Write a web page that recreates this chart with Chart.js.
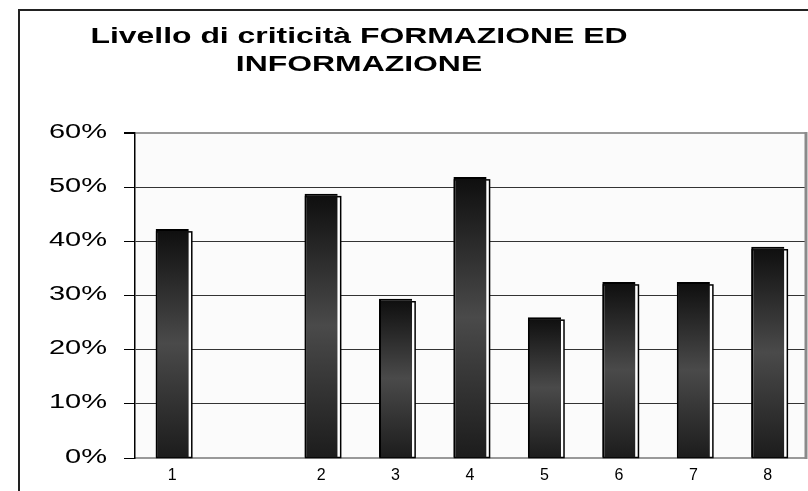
<!DOCTYPE html>
<html>
<head>
<meta charset="utf-8">
<script src="https://cdn.jsdelivr.net/npm/chart.js@4.4.1/dist/chart.umd.min.js"></script>
<style>
  html, body { margin: 0; padding: 0; background: #fff; }
  #wrap { width: 808px; height: 491px; }
</style>
</head>
<body>
<div id="wrap"><canvas id="c" width="808" height="491"></canvas></div>
<script>
const titleLines = ["Livello di criticità FORMAZIONE ED", "INFORMAZIONE"];
const categories = ["1", "", "2", "3", "4", "5", "6", "7", "8"];
const criticita = [42.3, null, 48.8, 29.4, 51.9, 26.0, 32.5, 32.5, 39.0];
const yMax = 60;
const yStep = 10;

// old Excel chart was stretched sideways, so text is wider than normal
function wideText(ctx, text, x, y, font, sx, align) {
  ctx.save();
  ctx.translate(x, y);
  ctx.scale(sx, 1);
  ctx.font = font;
  ctx.textAlign = align;
  ctx.textBaseline = "middle";
  ctx.fillStyle = "#000";
  ctx.fillText(text, 0, 0);
  ctx.restore();
}

const decor = {
  id: "decor",
  beforeDraw(chart) {
    const { ctx, chartArea: a } = chart;
    ctx.save();
    ctx.fillStyle = "#fff";
    ctx.fillRect(0, 0, chart.width, chart.height);
    ctx.strokeStyle = "#222";
    ctx.lineWidth = 2;
    ctx.strokeRect(19, 10, chart.width, chart.height); // frame runs off the page
    ctx.fillStyle = "#fbfbfb";
    ctx.fillRect(a.left, a.top, a.right - a.left, a.bottom - a.top);
    ctx.restore();
  },
  beforeDatasetsDraw(chart) {
    // white box with black outline behind each bar, shifted right/down
    const { ctx } = chart;
    const meta = chart.getDatasetMeta(0);
    ctx.save();
    meta.data.forEach((bar, i) => {
      if (criticita[i] == null) return;
      const { x, y, base, width } = bar.getProps(["x", "y", "base", "width"], true);
      ctx.fillStyle = "#fff";
      ctx.strokeStyle = "#000";
      ctx.lineWidth = 1.5;
      ctx.fillRect(x - width / 2 + 1, y + 3, width + 2, base - y - 3);
      ctx.strokeRect(x - width / 2 + 1, y + 3, width + 2, base - y - 3);
    });
    ctx.restore();
  },
  afterDraw(chart) {
    const { ctx, chartArea: a } = chart;
    ctx.save();
    ctx.strokeStyle = "#8a8a8a";
    ctx.lineWidth = 3;
    ctx.beginPath();
    ctx.moveTo(a.right + 1, a.top - 1);
    ctx.lineTo(a.right + 1, a.bottom + 1);
    ctx.stroke();
    ctx.restore();

    wideText(ctx, titleLines[0], 359, 37, "bold 22px 'Liberation Sans'", 1.45, "center");
    wideText(ctx, titleLines[1], 359, 65, "bold 22px 'Liberation Sans'", 1.45, "center");

    const ys = chart.scales.y;
    ys.ticks.forEach(t => {
      wideText(ctx, t.value + "%", 107, ys.getPixelForValue(t.value) - 1, "20px 'Liberation Sans'", 1.45, "right");
    });
  }
};

function barFill(c) {
  const chart = c.chart;
  if (!chart.chartArea || c.type !== "data" || c.raw == null) return "#333";
  const ys = chart.scales.y;
  const top = ys.getPixelForValue(c.raw);
  const bot = ys.getPixelForValue(0);
  const g = chart.ctx.createLinearGradient(0, top, 0, bot);
  g.addColorStop(0, "#0e0e0e");
  g.addColorStop(0.5, "#4a4a4a");
  g.addColorStop(1, "#1c1c1c");
  return g;
}

new Chart(document.getElementById("c"), {
  type: "bar",
  data: {
    labels: categories,
    datasets: [{
      data: criticita,
      backgroundColor: barFill,
      borderColor: "#000",
      borderWidth: { left: 2, top: 2, right: 0, bottom: 0 },
      borderSkipped: false,
      barPercentage: 0.445,
      categoryPercentage: 1
    }]
  },
  options: {
    responsive: false,
    animation: false,
    devicePixelRatio: 1,
    layout: { padding: { top: 133, right: 3, left: 0, bottom: 0 } },
    plugins: {
      legend: { display: false },
      tooltip: { enabled: false },
      title: { display: false }
    },
    scales: {
      x: {
        grid: { display: false, drawTicks: false },
        border: { color: "#999", width: 2 },
        ticks: {
          color: "#000",
          font: { family: "'Liberation Sans'", size: 16 },
          padding: 8,
          maxRotation: 0,
          autoSkip: false
        },
        afterFit: s => { s.height = 33; }
      },
      y: {
        min: 0,
        max: yMax,
        border: { color: "#000", width: 1.5 },
        grid: {
          color: c => (c.tick && c.tick.value === yMax ? "#999" : "#333"),
          lineWidth: c => (c.tick && c.tick.value === yMax ? 2 : 1),
          tickColor: "#000",
          tickLength: 11,
          drawTicks: true
        },
        ticks: { stepSize: yStep, display: false },
        afterFit: s => { s.width = 135; }
      }
    }
  },
  plugins: [decor]
});
</script>
</body>
</html>
